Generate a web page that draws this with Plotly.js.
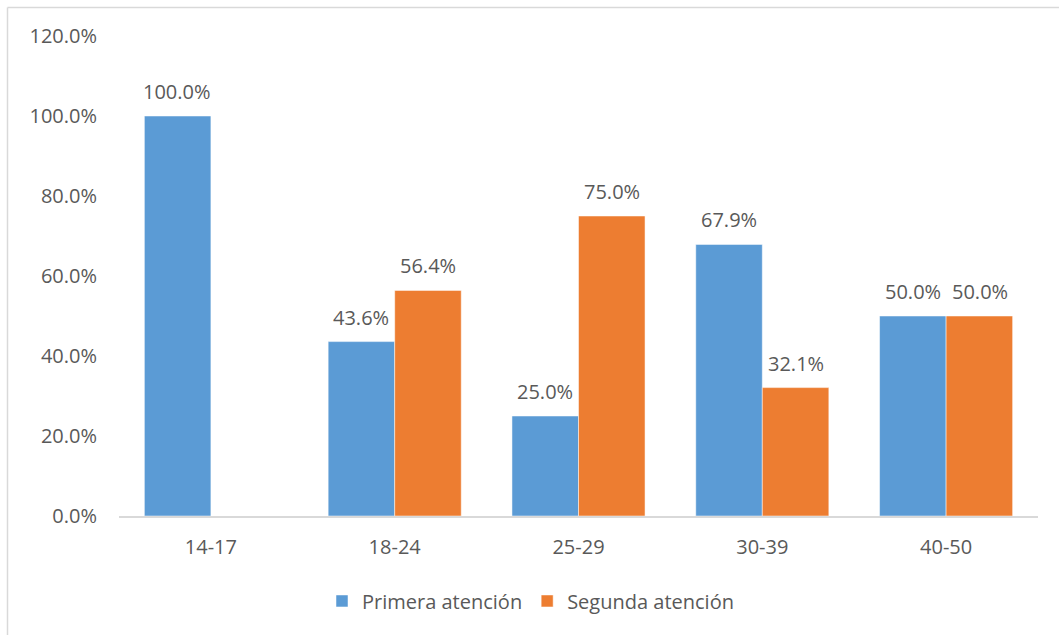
<!DOCTYPE html>
<html>
<head>
<meta charset="utf-8">
<script src="https://cdn.plot.ly/plotly-3.0.1.min.js"></script>
<style>
html,body{margin:0;padding:0;background:#fff;}
#chart{width:1059px;height:635px;}
</style>
</head>
<body>
<div id="chart"></div>
<script>
const categories = ["14-17", "18-24", "25-29", "30-39", "40-50"];
const primera = [100.0, 43.6, 25.0, 67.9, 50.0];
const segunda = [null, 56.4, 75.0, 32.1, 50.0];
const seriesNames = ["Primera atención", "Segunda atención"];

const font = {family: "Open Sans, Liberation Sans, sans-serif", size: 20, color: "#595959"};

const traces = [
  {type: "bar", x: categories, y: primera, name: seriesNames[0],
   marker: {color: "#5B9BD5", line: {color: "#FFFFFF", width: 0.5}},
   hoverinfo: "x+y"},
  {type: "bar", x: categories, y: segunda, name: seriesNames[1],
   marker: {color: "#ED7D31", line: {color: "#FFFFFF", width: 0.5}},
   hoverinfo: "x+y"}
];

const annotations = [];
[primera, segunda].forEach((series, s) => {
  series.forEach((v, i) => {
    if (v == null) return;
    annotations.push({
      x: categories[i], y: v, xref: "x", yref: "y",
      text: v.toFixed(1) + "%", showarrow: false,
      xanchor: "center", yanchor: "bottom",
      xshift: s === 0 ? -33.5 : 33.5, yshift: 9,
      font: font
    });
  });
});

const layout = {
  width: 1059, height: 635,
  margin: {l: 119, r: 21, t: 36, b: 119},
  paper_bgcolor: "#fff", plot_bgcolor: "#fff",
  font: font,
  barmode: "group", bargap: 0.276, bargroupgap: 0,
  showlegend: true,
  legend: {orientation: "h", x: (322 - 119) / 919, xanchor: "left", y: -0.177, yanchor: "middle",
           font: font, traceorder: "normal", itemwidth: 30},
  xaxis: {showgrid: false, showline: true, linecolor: "#D9D9D9", linewidth: 1.5,
          ticks: "", tickfont: font, zeroline: false, ticklabelstandoff: 12},
  yaxis: {range: [0, 120], dtick: 20, tickformat: ".1f", ticksuffix: "%",
          showgrid: false, showline: false, zeroline: false, ticks: "",
          tickfont: font, ticklabelstandoff: 21},
  annotations: annotations,
  shapes: [
    {type: "line", xref: "paper", yref: "paper",
     x0: (7.5 - 119) / 919, x1: (1059 - 119) / 919,
     y0: (516 - 7.5) / 480, y1: (516 - 7.5) / 480,
     line: {color: "#D9D9D9", width: 1.5}},
    {type: "line", xref: "paper", yref: "paper",
     x0: (7.5 - 119) / 919, x1: (7.5 - 119) / 919,
     y0: (516 - 7.5) / 480, y1: (516 - 635) / 480,
     line: {color: "#D9D9D9", width: 1.5}}
  ]
};

Plotly.newPlot("chart", traces, layout, {displayModeBar: false, staticPlot: true});
</script>
</body>
</html>
